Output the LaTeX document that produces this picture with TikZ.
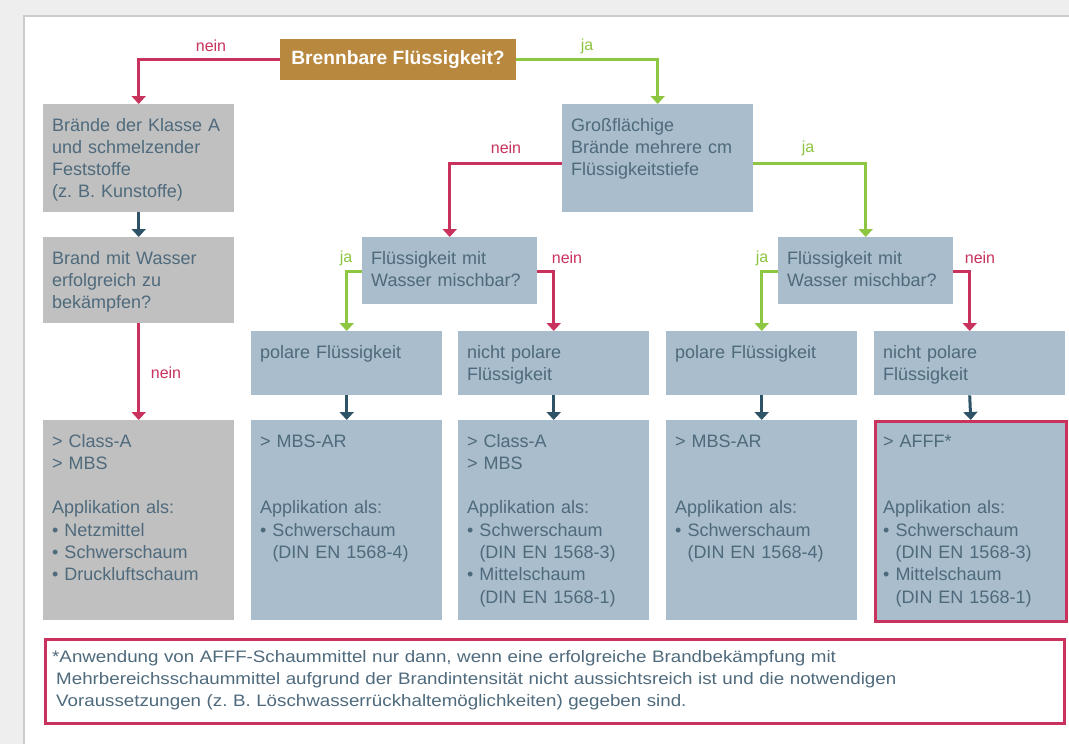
\documentclass[tikz,border=0pt]{standalone}
\usepackage{fontspec}
\setmainfont{Liberation Sans}
\newfontfamily\footfam[FakeStretch=1.13]{Liberation Sans}
\usetikzlibrary{arrows.meta,calc}
\definecolor{outerbg}{HTML}{EEEEEE}
\definecolor{panelline}{HTML}{CCCCCC}
\definecolor{goldc}{HTML}{B8883E}
\definecolor{grayc}{HTML}{C0C0C0}
\definecolor{bluec}{HTML}{A9BDCC}
\definecolor{txtc}{HTML}{4E6A7C}
\definecolor{redc}{HTML}{C8325C}
\definecolor{greenc}{HTML}{8DC641}
\definecolor{darkc}{HTML}{2E5366}
\newcommand\boxfont{\fontsize{18}{22.3}\selectfont}
\newcommand\labfont{\fontsize{16}{18}\selectfont}
\frenchspacing
\begin{document}
\begin{tikzpicture}[x=1pt,y=-1pt,
  gbox/.style={rectangle, fill=grayc, inner sep=0pt, anchor=north west, minimum width=191pt},
  bbox/.style={rectangle, fill=bluec, inner sep=0pt, anchor=north west, minimum width=191pt},
  txt/.style={anchor=base west, inner sep=0pt, align=left, text width=185pt, font=\boxfont, text=txtc},
  lab/.style={inner sep=0pt, font=\labfont},
  rline/.style={draw=redc, line width=3pt, -{Triangle[width=14pt,length=8pt]}},
  gline/.style={draw=greenc, line width=3pt, -{Triangle[width=14pt,length=8pt]}},
  dline/.style={draw=darkc, line width=3pt, -{Triangle[width=14pt,length=8pt]}}
]
\useasboundingbox (0,0) rectangle (1069,744);
\fill[outerbg] (0,0) rectangle (1069,744);
\fill[white] (24,16) rectangle (1069,744);
\draw[panelline, line width=1.5pt] (24,744) -- (24,16) -- (1069,16);

% top question
\node[rectangle, fill=goldc, inner sep=0pt, minimum width=236pt, minimum height=41pt,
      text=white, font=\fontsize{19.2}{21}\selectfont\bfseries] (B) at (398,59.5) {Brennbare Flüssigkeit?};

% second level
\node[gbox, minimum height=108pt] (K1) at (43,104) {};
\node[txt] (K1t) at ($(K1.north west)+(9,27)$) {Brände der Klasse A\\und schmelzender\\Feststoffe\\(z. B. Kunstoffe)};
\node[bbox, minimum height=108pt] (G) at (562,104) {};
\node[txt] (Gt) at ($(G.north west)+(9,27)$) {Großflächige\\Brände mehrere cm\\Flüssigkeitstiefe};

% third level
\node[gbox, minimum height=86pt] (K2) at (43,237) {};
\node[txt] (K2t) at ($(K2.north west)+(9,27)$) {Brand mit Wasser\\erfolgreich zu\\bekämpfen?};
\node[bbox, minimum width=175pt, minimum height=67pt] (M1) at (362,237) {};
\node[txt] (M1t) at ($(M1.north west)+(9,27)$) {Flüssigkeit mit\\Wasser mischbar?};
\node[bbox, minimum width=175pt, minimum height=67pt] (M2) at (778,237) {};
\node[txt] (M2t) at ($(M2.north west)+(9,27)$) {Flüssigkeit mit\\Wasser mischbar?};

% fourth level
\node[bbox, minimum height=64pt] (P1) at (251,331) {};
\node[txt] (P1t) at ($(P1.north west)+(9,27)$) {polare Flüssigkeit};
\node[bbox, minimum height=64pt] (N1) at (458,331) {};
\node[txt] (N1t) at ($(N1.north west)+(9,27)$) {nicht polare\\Flüssigkeit};
\node[bbox, minimum height=64pt] (P2) at (666,331) {};
\node[txt] (P2t) at ($(P2.north west)+(9,27)$) {polare Flüssigkeit};
\node[bbox, minimum height=64pt] (N2) at (874,331) {};
\node[txt] (N2t) at ($(N2.north west)+(9,27)$) {nicht polare\\Flüssigkeit};

% results
\node[gbox, minimum height=200pt] (R1) at (43,420) {};
\node[txt] (R1t) at ($(R1.north west)+(9,27)$) {> Class-A\\> MBS\\[22.3pt]Applikation als:\\• Netzmittel\\• Schwerschaum\\• Druckluftschaum};
\node[bbox, minimum height=200pt] (R2) at (251,420) {};
\node[txt] (R2t) at ($(R2.north west)+(9,27)$) {> MBS-AR\\[44.6pt]Applikation als:\\• Schwerschaum\\\phantom{• }(DIN EN 1568-4)};
\node[bbox, minimum height=200pt] (R3) at (458,420) {};
\node[txt] (R3t) at ($(R3.north west)+(9,27)$) {> Class-A\\> MBS\\[22.3pt]Applikation als:\\• Schwerschaum\\\phantom{• }(DIN EN 1568-3)\\• Mittelschaum\\\phantom{• }(DIN EN 1568-1)};
\node[bbox, minimum height=200pt] (R4) at (666,420) {};
\node[txt] (R4t) at ($(R4.north west)+(9,27)$) {> MBS-AR\\[44.6pt]Applikation als:\\• Schwerschaum\\\phantom{• }(DIN EN 1568-4)};
\node[bbox, minimum height=200pt, draw=redc, line width=2.5pt] (R5) at (874,420) {};
\node[txt] (R5t) at ($(R5.north west)+(9,27)$) {> AFFF*\\[44.6pt]Applikation als:\\• Schwerschaum\\\phantom{• }(DIN EN 1568-3)\\• Mittelschaum\\\phantom{• }(DIN EN 1568-1)};

% footnote
\node[rectangle, draw=redc, line width=2.5pt, fill=white, inner sep=0pt, anchor=north west,
      minimum width=1019pt, minimum height=84pt] (F) at (44,638) {};
\node[anchor=base west, inner sep=0pt, align=left, text width=1000pt, text=txtc,
      font=\footfam\fontsize{16.6}{22}\selectfont] (Ft) at ($(F.north west)+(8,24)$)
  {*Anwendung von AFFF-Schaummittel nur dann, wenn eine erfolgreiche Brandbekämpfung mit\\
   \hspace*{4pt}Mehrbereichsschaummittel aufgrund der Brandintensität nicht aussichtsreich ist und die notwendigen\\
   \hspace*{4pt}Voraussetzungen (z. B. Löschwasserrückhaltemöglichkeiten) gegeben sind.};

% connectors
\draw[rline] (B.west) -| (K1.north);
\draw[gline] (B.east) -| (G.north);
\draw[dline] (K1.south) -- (K2.north);
\draw[rline] (K2.south) -- (R1.north);
\draw[rline] ([yshift=-5pt]G.west) -| (M1.north);
\draw[gline] ([yshift=-5pt]G.east) -| (M2.north);
\draw[gline] ([yshift=-1pt]M1.west) -| (P1.north);
\draw[rline] ([yshift=-1pt]M1.east) -| (N1.north);
\draw[gline] ([yshift=-1pt]M2.west) -| (P2.north);
\draw[rline] ([yshift=-1pt]M2.east) -| (N2.north);
\draw[dline] (P1.south) -- (R2.north);
\draw[dline] (N1.south) -- (R3.north);
\draw[dline] (P2.south) -- (R4.north);
\draw[dline] (N2.south) -- (R5.north);

% labels
\node[lab, text=redc] (L1) at (211,46) {nein};
\node[lab, text=greenc] (L2) at (587,46) {ja};
\node[lab, text=redc] (L3) at (506,148) {nein};
\node[lab, text=greenc] (L4) at (808,148) {ja};
\node[lab, text=greenc] (L5) at (346,258) {ja};
\node[lab, text=redc] (L6) at (567,258) {nein};
\node[lab, text=greenc] (L7) at (762,258) {ja};
\node[lab, text=redc] (L8) at (980,258) {nein};
\node[lab, text=redc] (L9) at (166,373) {nein};
\end{tikzpicture}
\end{document}
